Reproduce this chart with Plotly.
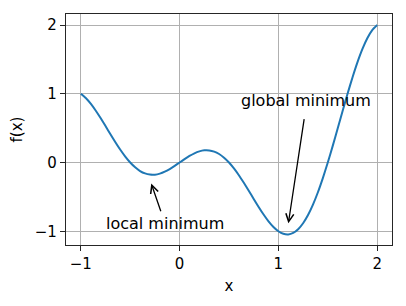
import plotly.graph_objects as go

# Values
x_vals = [-1.00, -0.95, -0.90, -0.85, -0.80, -0.75, -0.70, -0.65, -0.60, -0.55,
          -0.50, -0.45, -0.40, -0.35, -0.30, -0.25, -0.20, -0.15, -0.10, -0.05,
          0.00, 0.05, 0.10, 0.15, 0.20, 0.25, 0.30, 0.35, 0.40, 0.45,
          0.50, 0.55, 0.60, 0.65, 0.70, 0.75, 0.80, 0.85, 0.90, 0.95,
          1.00, 1.05, 1.10, 1.15, 1.20, 1.25, 1.30, 1.35, 1.40, 1.45,
          1.50, 1.55, 1.60, 1.65, 1.70, 1.75, 1.80, 1.85, 1.90, 1.95, 2.00]
f_vals = [1.000, 0.938, 0.856, 0.757, 0.647, 0.530, 0.411, 0.295, 0.185, 0.086,
          0.000, -0.070, -0.124, -0.159, -0.176, -0.177, -0.162, -0.134, -0.095, -0.049,
          0.000, 0.049, 0.095, 0.134, 0.162, 0.177, 0.176, 0.159, 0.124, 0.070,
          0.000, -0.086, -0.185, -0.295, -0.411, -0.530, -0.647, -0.757, -0.856, -0.938,
          -1.000, -1.037, -1.046, -1.025, -0.971, -0.884, -0.764, -0.613, -0.433, -0.227,
          0.000, 0.242, 0.494, 0.749, 1.000, 1.237, 1.456, 1.648, 1.807, 1.926, 2.000]
x_ticks = [-1, 0, 1, 2]
y_ticks = [-1, 0, 1, 2]
tick_text = ["\u22121", "0", "1", "2"]

fig = go.Figure()
fig.add_trace(go.Scatter(x=x_vals, y=f_vals, mode="lines",
                         line=dict(color="#1f77b4", width=2, shape="spline", smoothing=0.5),
                         showlegend=False, hoverinfo="skip"))

font_ann = dict(family="DejaVu Sans", size=16, color="black")
fig.add_annotation(x=-0.77, y=-1.0, text="local minimum", showarrow=False,
                   xanchor="left", yanchor="bottom", yshift=-4, font=font_ann)
fig.add_annotation(x=0.6, y=0.8, text="global minimum", showarrow=False,
                   xanchor="left", yanchor="bottom", yshift=-4, font=font_ann)
fig.add_annotation(x=-0.287, y=-0.307, ax=-0.185, ay=-0.73, axref="x", ayref="y",
                   text="", showarrow=True, arrowhead=5, arrowsize=1.2,
                   arrowwidth=1.3, arrowcolor="black")
fig.add_annotation(x=1.101, y=-0.885, ax=1.263, ay=0.654, axref="x", ayref="y",
                   text="", showarrow=True, arrowhead=5, arrowsize=1.2,
                   arrowwidth=1.3, arrowcolor="black")

axis_common = dict(showline=True, linecolor="#262626", linewidth=1.2, mirror=True,
                   ticks="outside", ticklen=5, tickcolor="#262626", tickwidth=1,
                   showgrid=True, gridcolor="#b0b0b0", gridwidth=1, zeroline=False,
                   tickfont=dict(family="DejaVu Sans", size=15, color="black"))
fig.update_xaxes(range=[-1.15, 2.15], tickvals=x_ticks, ticktext=tick_text,
                 title=dict(text="x", font=dict(family="DejaVu Sans", size=15, color="black"),
                            standoff=8),
                 **axis_common)
fig.update_yaxes(range=[-1.2, 2.16], tickvals=y_ticks, ticktext=tick_text,
                 title=dict(text="f(x)", font=dict(family="DejaVu Sans", size=15, color="black"),
                            standoff=8),
                 **axis_common)
fig.update_layout(width=406, height=306, margin=dict(l=66, r=14, t=14, b=61),
                  plot_bgcolor="white", paper_bgcolor="white")
fig.write_html("out.html")
